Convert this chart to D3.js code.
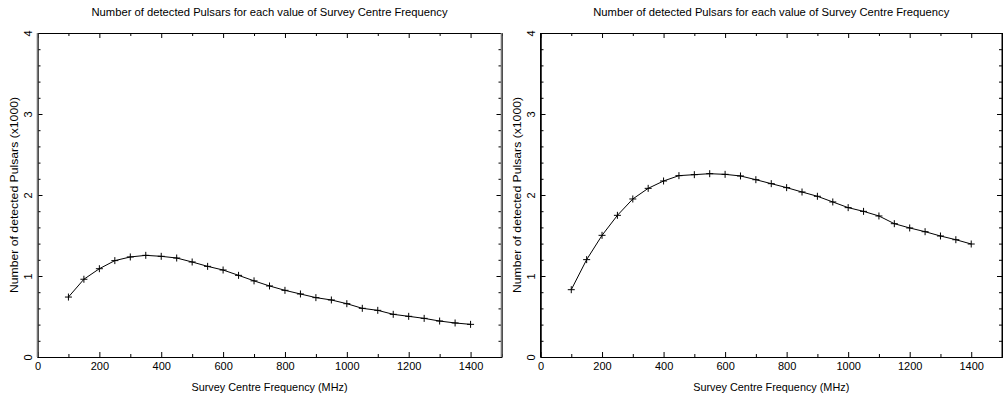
<!DOCTYPE html>
<html><head><meta charset="utf-8">
<script src="https://cdn.jsdelivr.net/npm/d3@7"></script>
<style>body{margin:0;background:#fff}svg{display:block}text{font-family:"Liberation Sans",Arial,sans-serif;fill:#000}</style>
</head><body><svg id="c" width="1003" height="395"></svg>
<script>
const freqs = [100,150,200,250,300,350,400,450,500,550,600,650,700,750,800,850,900,950,1000,1050,1100,1150,1200,1250,1300,1350,1400];
const pulsarsA = [0.74,0.96,1.09,1.19,1.235,1.255,1.243,1.222,1.173,1.119,1.074,1.008,0.94,0.877,0.823,0.778,0.733,0.704,0.658,0.601,0.576,0.527,0.502,0.477,0.444,0.420,0.403];
const pulsarsB = [0.831,1.202,1.502,1.749,1.951,2.082,2.173,2.239,2.251,2.263,2.255,2.235,2.189,2.140,2.091,2.037,1.984,1.914,1.844,1.798,1.741,1.646,1.593,1.547,1.494,1.448,1.395];
const xMajorTicks = [0,200,400,600,800,1000,1200,1400];
const yMajorTicks = [0,1,2,3,4];
const titleText = "Number of detected Pulsars for each value of Survey Centre Frequency";
const xTitle = "Survey Centre Frequency (MHz)";
const yTitle = "Number of detected Pulsars (x1000)";

const svg = d3.select("#c");

function panel(x0, x1, values, sideColor, sideWidth) {
  const top = 33, bottom = 357;
  const x = d3.scaleLinear().domain([0,1500]).range([x0,x1]);
  const y = d3.scaleLinear().domain([0,4]).range([bottom,top]);
  const g = svg.append("g");
  const xMinor = d3.range(0,1501,100).filter(v=>v%200!==0);
  const yMinor = d3.range(0,4.01,0.2).filter(v=>Math.abs(v-Math.round(v))>1e-6);

  // bottom axis
  const bx = g.append("g").attr("transform",`translate(0,${bottom})`)
    .call(d3.axisBottom(x).tickValues(xMajorTicks).tickSizeInner(-5).tickSizeOuter(0).tickPadding(5).tickFormat(d3.format("d")));
  g.append("g").attr("transform",`translate(0,${bottom})`)
    .call(d3.axisBottom(x).tickValues(xMinor).tickSizeInner(-3).tickSizeOuter(0).tickFormat(""));
  // top axis
  g.append("g").attr("transform",`translate(0,${top})`)
    .call(d3.axisTop(x).tickValues(xMajorTicks).tickSizeInner(-5).tickSizeOuter(0).tickFormat(""));
  g.append("g").attr("transform",`translate(0,${top})`)
    .call(d3.axisTop(x).tickValues(xMinor).tickSizeInner(-3).tickSizeOuter(0).tickFormat(""));
  // left axis
  const ly = g.append("g").attr("transform",`translate(${x0},0)`)
    .call(d3.axisLeft(y).tickValues(yMajorTicks).tickSizeInner(-5).tickSizeOuter(0).tickPadding(7).tickFormat(d3.format("d")));
  g.append("g").attr("transform",`translate(${x0},0)`)
    .call(d3.axisLeft(y).tickValues(yMinor).tickSizeInner(-3).tickSizeOuter(0).tickFormat(""));
  // right axis
  g.append("g").attr("transform",`translate(${x1},0)`)
    .call(d3.axisRight(y).tickValues(yMajorTicks).tickSizeInner(-5).tickSizeOuter(0).tickFormat(""));
  g.append("g").attr("transform",`translate(${x1},0)`)
    .call(d3.axisRight(y).tickValues(yMinor).tickSizeInner(-3).tickSizeOuter(0).tickFormat(""));

  g.selectAll(".domain").attr("stroke","#000").attr("stroke-width",1);
  g.selectAll(".tick line").attr("stroke","#000").attr("stroke-width",1);
  g.selectAll(".tick text").attr("font-family","Liberation Sans, Arial, sans-serif").attr("font-size",11).attr("fill","#000");
  // rotate y labels
  ly.selectAll(".tick text").attr("text-anchor","middle").attr("dy",null).attr("dominant-baseline","central")
    .attr("x",null).attr("transform","translate(-10,0) rotate(-90)");
  ly.selectAll(".tick text").attr("transform","rotate(-90)").attr("x",0).attr("y",-10).attr("dy","0");
  // vertical frame sides style
  g.append("line").attr("x1",x0).attr("x2",x0).attr("y1",top).attr("y2",bottom).attr("stroke",sideColor).attr("stroke-width",sideWidth);
  g.append("line").attr("x1",x1).attr("x2",x1).attr("y1",top).attr("y2",bottom).attr("stroke",sideColor).attr("stroke-width",sideWidth);

  const mid = (x0+x1)/2;
  g.append("text").attr("x",mid).attr("y",16).attr("text-anchor","middle").attr("font-size",10)
    .attr("textLength",356).attr("lengthAdjust","spacingAndGlyphs").text(titleText);
  g.append("text").attr("x",(x0+x1)/2 + 0).attr("y",391).attr("text-anchor","middle").attr("font-size",11)
    .attr("textLength",156).attr("lengthAdjust","spacingAndGlyphs").text(xTitle);
  g.append("text").attr("transform",`translate(${x0-20},${(top+bottom)/2}) rotate(-90)`).attr("text-anchor","middle").attr("font-size",11)
    .attr("textLength",196).attr("lengthAdjust","spacingAndGlyphs").text(yTitle);

  const pts = freqs.map((f,i)=>[x(f),y(values[i])]);
  g.append("path").attr("d",d3.line()(pts)).attr("fill","none").attr("stroke","#000").attr("stroke-width",1);
  const s = 3.5;
  g.selectAll("path.mk").data(pts).enter().append("path").attr("class","mk")
    .attr("d",d=>`M${d[0]-s},${d[1]}H${d[0]+s}M${d[0]},${d[1]-s}V${d[1]+s}`)
    .attr("stroke","#000").attr("stroke-width",1);
}

panel(37.5, 501.5, pulsarsA, "#777", 1.6);
panel(540.5, 1002, pulsarsB, "#000", 1);
</script></body></html>
